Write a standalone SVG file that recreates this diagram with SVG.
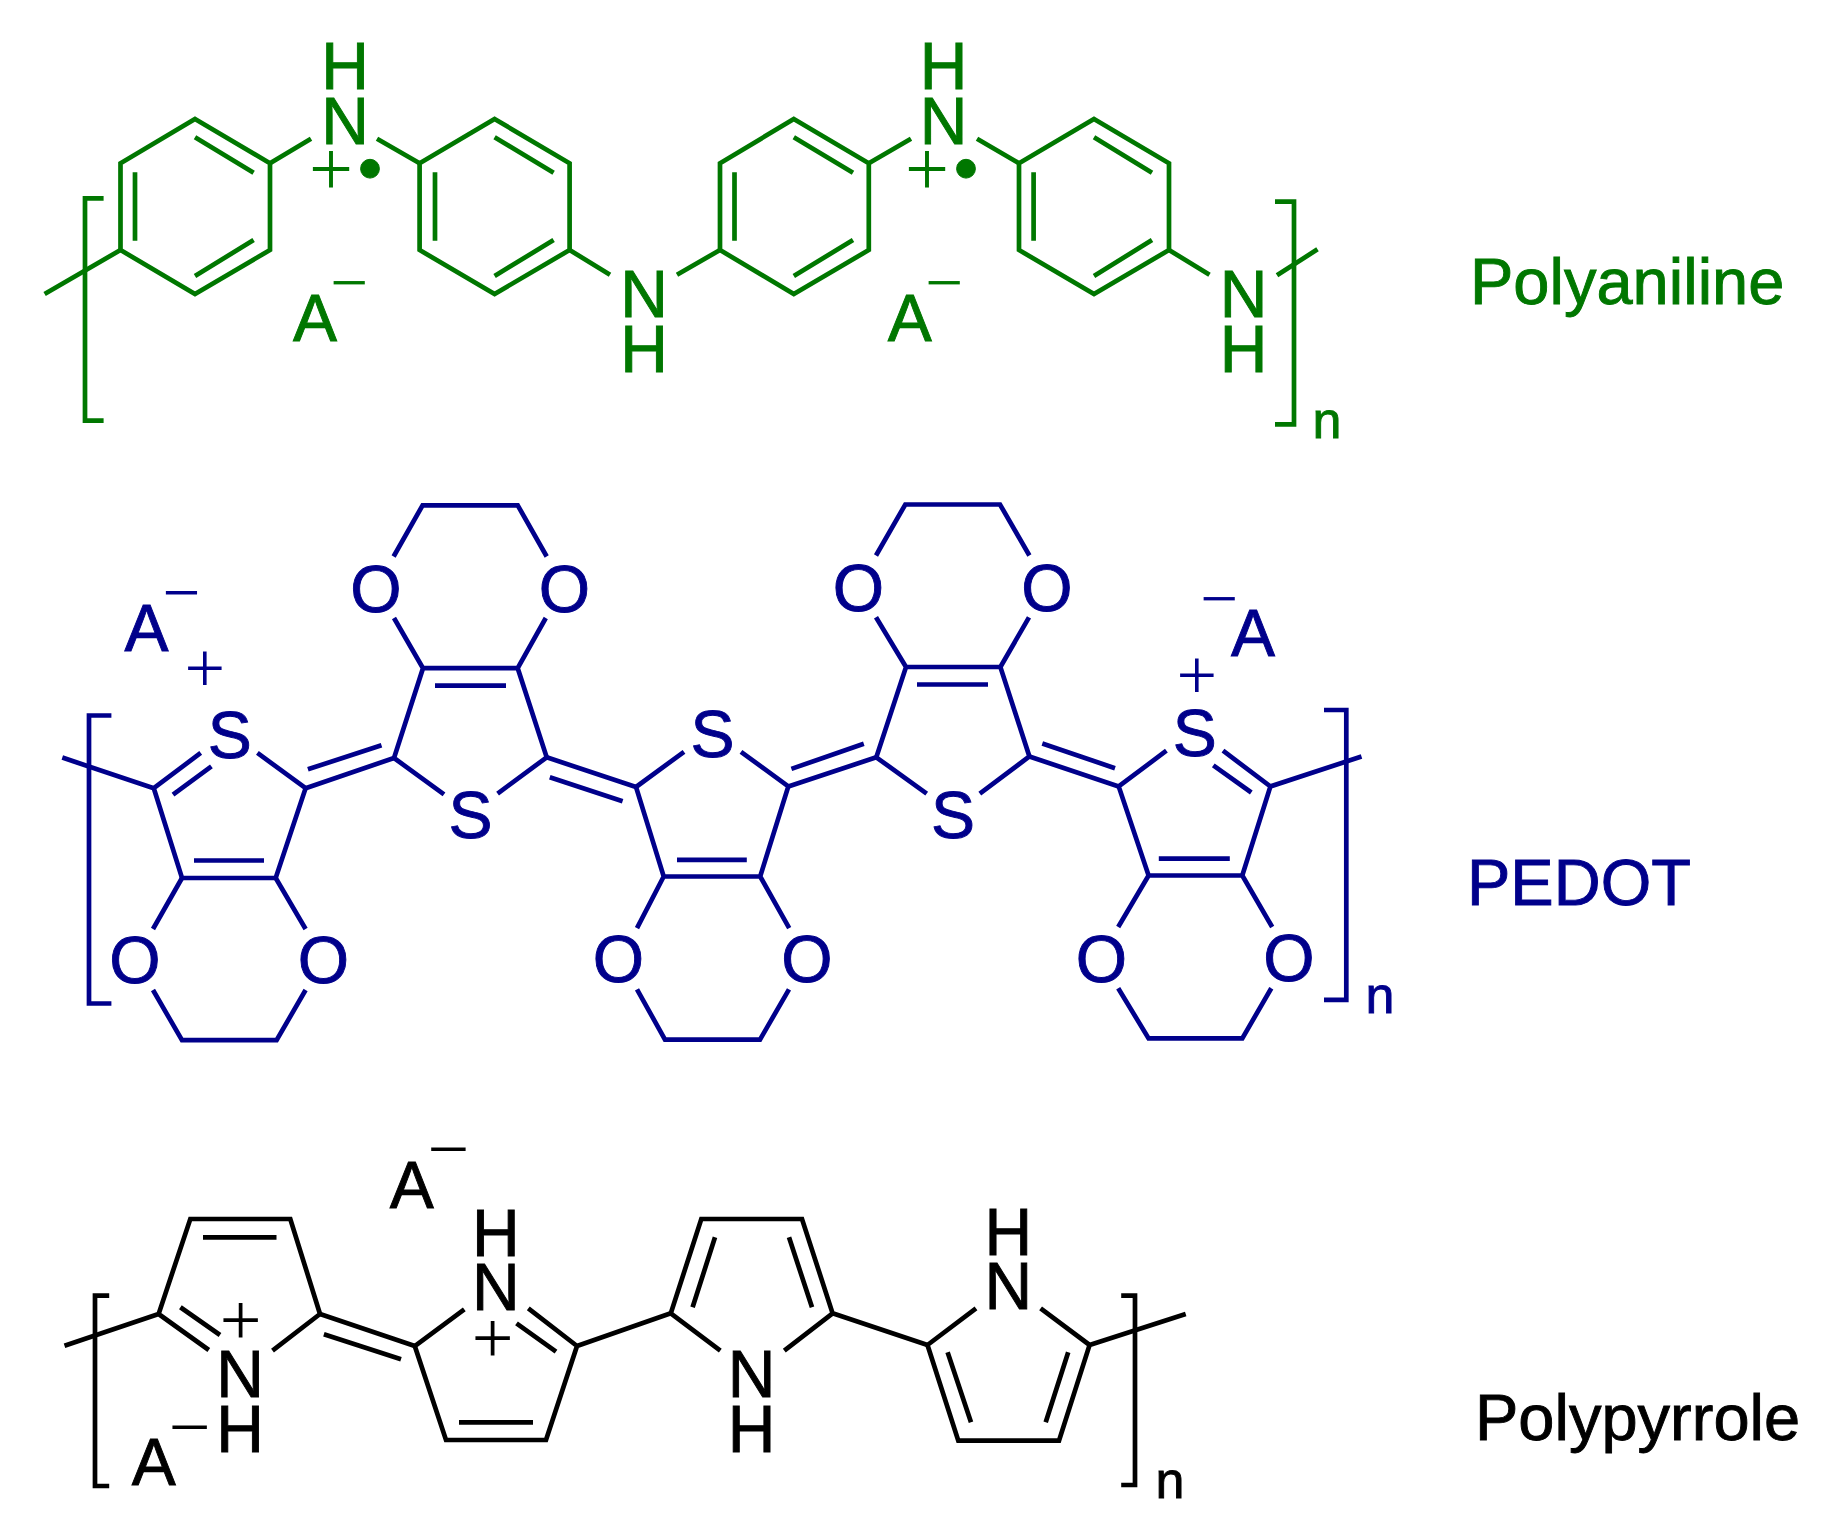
<svg xmlns="http://www.w3.org/2000/svg" width="1840" height="1532" viewBox="0 0 1840 1532">
<style>
text{font-family:"Liberation Sans",Arial,sans-serif;font-size:66px;text-anchor:middle;stroke-width:.9px}
.n{font-size:52px}
.lab{font-size:65px;text-anchor:start}
path{fill:none;stroke-width:4.7;stroke-linejoin:miter;stroke-linecap:butt}
.g text,.g circle{fill:#007700;stroke:#007700}.g path{stroke:#007700}
.b text{fill:#00008b;stroke:#00008b}.b path{stroke:#00008b}
.k text{fill:#000;stroke:#000}.k path{stroke:#000}
.p82,.p76,.p78,.m70,.m78{font-family:"Liberation Serif","Times New Roman",serif;stroke-width:0}
.p82{font-size:78px}.p76{font-size:72px}.p78{font-size:74px}.m70{font-size:67px}.m78{font-size:74px}
</style>
<rect width="1840" height="1532" fill="#fff"/>
<g id="polyaniline" class="g">
<g id="pani-bonds">
<path d="M195 119L270 163.3V250L195 294L120.500 250V163.300Z"/>
<path d="M195 137.300L253.600 172.700M135 172.300V240.700M253.600 240L195 276"/>
<path d="M494.600 119L569.600 163.300V250L494.600 294L419.600 250V163.300Z"/>
<path d="M494.600 137.300L553.600 172.700M435 172.300V240.700M553.600 240L494.600 276"/>
<path d="M793.800 119L868.800 163.300V250L793.800 294L720 250V163.300Z"/>
<path d="M793.800 137.300L853 172.700M734.500 172.300V240.700M853 240L793.800 276"/>
<path d="M1094 119L1169 163.300V250L1094 294L1019 250V163.300Z"/>
<path d="M1094 137.300L1152 172.700M1033.600 172.300V240.700M1152 240L1094 276"/>
<path d="M44.600 294L120.500 250M270 163.300L311 138.700M377 138.700L419.600 163.300M569.600 250L610 274.700M677 274.700L720 250M868.800 163.300L911 138.700M977 138.700L1019 163.300M1169 250L1209.500 274.700M1277 275.300L1317.500 249.300"/>
<path d="M103.600 198.300H85V420.700H103.600M1275 201.700H1294V424.300H1275"/>
</g>
<g id="pani-n1"><text x="345" y="89">H</text><text x="345" y="144">N</text><text class="p82" x="331" y="194.800">+</text><circle cx="370" cy="168.700" r="9.400"/></g>
<g id="pani-n2"><text x="644" y="316.700">N</text><text x="644" y="371.700">H</text></g>
<g id="pani-n3"><text x="943.500" y="89">H</text><text x="943.500" y="144">N</text><text class="p82" x="927" y="194.800">+</text><circle cx="966" cy="168.700" r="9.400"/></g>
<g id="pani-n4"><text x="1243.600" y="316.700">N</text><text x="1243.600" y="371.700">H</text></g>
<g id="pani-a1"><text x="315" y="340.700">A</text><text class="m70" x="349.500" y="305">−</text></g>
<g id="pani-a2"><text x="909.700" y="340.700">A</text><text class="m70" x="944.500" y="305">−</text></g>
<text class="n" x="1327" y="437.700">n</text>
<text class="lab" x="1470" y="304">Polyaniline</text>
</g>
<g id="pedot" class="b">
<g id="pedot-bonds">
<path d="M153.800 788.200L200.700 752.900M173 794.700L211.400 766.400M153.800 788.200L182 878H275.700L305.600 788.200L257.400 752.900M194 860.500H264M153.800 788.200L62.300 757.600"/>
<path d="M182 878L153 929M275.700 878L305.600 929M153 990L182 1040.200H276.600L305.600 990"/>
<path d="M305.600 788.200L394 758M307.900 769.300L381.500 745.300"/>
<path d="M444 794.400L394 758L423 668.200H517.700L546.700 757.300L497.600 793.600M435 685.600H506M423 668.200L394 618M517.700 668.200L545.800 618M393.600 556.500L422.600 505.300H517.700L546.700 556.500"/>
<path d="M546.700 757.300L636 787M549.800 777.300L622.600 801.300"/>
<path d="M684 751.800L636 787L663.700 876.500H760.200L788.300 786.400L741 751.800M677 859.800H746.800M663.700 876.500L637 928.200M760.200 876.500L789.200 928.200M637 989.300L665 1039.600H760L789 989.300"/>
<path d="M788.300 786.400L876.300 757.300M791.400 768.900L863.800 743.800"/>
<path d="M926.700 793.600L876.300 757.300L906 667H1000.400L1029.400 756.500L979.800 793.600M917 684.500H988M906 667L876 617.300M1000.400 667L1029 617.300M876 555.500L905.300 504.500H1000L1029.400 555.500"/>
<path d="M1029.400 756.500L1118.700 786.400M1042.300 743.500L1115 768.200"/>
<path d="M1166.400 750.700L1118.700 786.400L1148.600 875.500H1242.300L1270.400 786.400L1223 750.700M1213.300 765.300L1251.300 792.500M1158.800 858.700H1229.800M1270.400 786.400L1361.500 756.500M1148.600 875.500L1118.200 927M1242.300 875.500L1272.200 927M1118.200 988.200L1148.600 1038.400H1242.300L1271.300 988.200"/>
<path d="M111.400 715.500H89V1003.500H111.400M1324 710H1346.300V999.800H1324"/>
</g>
<g id="pedot-atoms">
<text x="229.700" y="757.600">S</text><text x="134.900" y="983">O</text><text x="323.400" y="983">O</text>
<text x="470.500" y="838.200">S</text><text x="376" y="612">O</text><text x="564.400" y="612">O</text>
<text x="712.500" y="756.500">S</text><text x="618.400" y="982">O</text><text x="807" y="982">O</text>
<text x="953" y="837.500">S</text><text x="858.500" y="611">O</text><text x="1047" y="611">O</text>
<text x="1194.700" y="755.700">S</text><text x="1101.500" y="982">O</text><text x="1289" y="981">O</text>
</g>
<g id="pedot-a1"><text x="146.400" y="650.700">A</text><text class="m70" x="181.700" y="615.200">−</text><text class="p76" x="204.700" y="691.500">+</text></g>
<g id="pedot-a2"><text x="1253" y="656.200">A</text><text class="m70" x="1219.500" y="621">−</text><text class="p76" x="1196.800" y="699.200">+</text></g>
<text class="n" x="1380" y="1012.900">n</text>
<text class="lab" x="1467" y="904.700">PEDOT</text>
</g>
<g id="polypyrrole" class="k">
<g id="ppy-bonds">
<path d="M208.800 1350L158.600 1314L190.300 1219H290.300L320 1314L272.500 1350.700M180.400 1307.300L220 1335M203 1237.300H276.500M158.600 1314L64.500 1345.700"/>
<path d="M320 1314L414.800 1346M323.900 1334.300L401 1359.300"/>
<path d="M464.300 1309.300L414.800 1346L446 1440H546L577 1346L528.300 1308.300M516.500 1323.300L556 1351.700M459 1422.300H533M577 1346L670.800 1313.300"/>
<path d="M720.300 1350.700L670.800 1313.300L701.300 1219H802L832.600 1313.300L784.300 1350.700M715 1237.300L692.600 1307.300M789 1237.300L812 1307.300M832.600 1313.300L927.500 1345"/>
<path d="M976 1308.300L927.500 1345L958.300 1440.700H1059L1089.600 1345L1040.600 1308.300M947.600 1352.300L971 1422.300M1068.200 1352.300L1045.700 1422.300M1089.600 1345L1185.700 1314"/>
<path d="M109.200 1295.700H95V1486H109.200M1121.200 1295.700H1135V1485H1121.200"/>
</g>
<g id="ppy-n1"><text x="240" y="1396.700">N</text><text x="240" y="1451.700">H</text><text class="p78" x="240.500" y="1344.500">+</text></g>
<g id="ppy-n2"><text x="495.800" y="1256">H</text><text x="495.800" y="1310">N</text><text class="p78" x="492.700" y="1362.800">+</text></g>
<g id="ppy-n3"><text x="751.700" y="1396.700">N</text><text x="751.700" y="1451.700">H</text></g>
<g id="ppy-n4"><text x="1008.400" y="1255">H</text><text x="1008.400" y="1309.300">N</text></g>
<g id="ppy-a1"><text x="153.700" y="1485">A</text><text class="m78" x="189.700" y="1451.500">−</text></g>
<g id="ppy-a2"><text x="411.700" y="1208.300">A</text><text class="m78" x="448.300" y="1173.800">−</text></g>
<text class="n" x="1170" y="1498.300">n</text>
<text class="lab" x="1475" y="1440">Polypyrrole</text>
</g>
</svg>
